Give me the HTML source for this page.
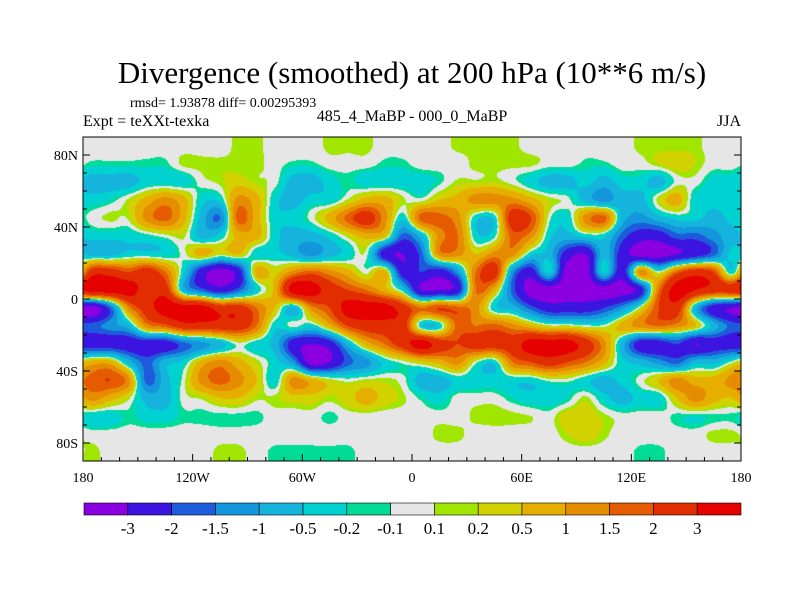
<!DOCTYPE html>
<html><head><meta charset="utf-8"><style>
body{margin:0;background:#fff;width:800px;height:600px;overflow:hidden;font-family:"Liberation Serif",serif;}
svg text{font-family:"Liberation Serif",serif;fill:#000;}
</style></head><body>
<svg id="chart" width="800" height="600" xmlns="http://www.w3.org/2000/svg" font-family="Liberation Serif, serif">
<rect width="800" height="600" fill="#fff"/>
<text x="412" y="83" font-size="31" text-anchor="middle">Divergence (smoothed) at 200 hPa (10**6 m/s)</text>
<text x="130" y="107" font-size="14">rmsd= 1.93878 diff= 0.00295393</text>
<text x="83" y="126" font-size="16">Expt = teXXt-texka</text>
<text x="412" y="121" font-size="16" text-anchor="middle">485_4_MaBP - 000_0_MaBP</text>
<text x="741" y="126" font-size="16" text-anchor="end">JJA</text>
<foreignObject x="83" y="137" width="658" height="324"><canvas id="cv" xmlns="http://www.w3.org/1999/xhtml" width="658" height="324" style="display:block"></canvas></foreignObject>
<rect x="83" y="137" width="658" height="324" fill="none" stroke="#000" stroke-width="1"/>
<g id="axes"></g>
<g id="cbar"></g>
</svg>
<script>
const levels=[-3,-2,-1.5,-1,-0.5,-0.2,-0.1,0.1,0.2,0.5,1,1.5,2,3];
const colors=["#8a00e0","#3c14e0","#1e5adc","#1496dc","#14b4dc","#00d2d2","#00dc96","#e6e6e6","#a0e600","#d2d200","#e6af00","#e68c00","#e65a00","#e12d00","#e60000"];
const xTicks=[-180,-120,-60,0,60,120,180];
const xTickLabels=["180","120W","60W","0","60E","120E","180"];
const yTicks=[80,40,0,-40,-80];
const yTickLabels=["80N","40N","0","40S","80S"];
// grid: 18 lat rows (85N..85S, 10 deg), 36 lon cols (175W..175E, 10 deg)
const row0=[0,0,0,0,0,0,0,0,0.15,0.15,0,0,0,0.15,0.15,0.15,0,0, 0,0,0.15,0.15,0.15,0.15,0,0,0,0,0,0,0.15,0.15,0.15,0.15,0,0];
const row1=[-0.15,-0.15,-0.15,-0.15,-0.15,0.15,0.15,0.15,0.15,0.15,0,-0.15,-0.15,0,0,0,-0.15,-0.15, 0,0,0,0.15,0.15,0.15,0.15,0,0,-0.15,-0.15,0,0,0.2,0.35,0.2,0,0];
const row2=[-0.7,-0.7,-0.7,-0.35,-0.35,-0.35,0,0.15,0.35,0.15,0,-0.7,-0.7,-0.35,-0.15,-0.35,-0.35,-0.35, -0.35,-0.15,0.15,0.15,0.2,0,-0.35,-0.7,-0.7,-0.35,-0.7,-0.35,-0.35,-0.7,0,0,-0.35,-0.35];
const row3=[-0.35,-0.2,0.15,0.7,1.2,0.7,-0.35,-0.35,1.2,0.7,-0.35,-0.7,-0.35,-0.35,0.15,0.7,0.7,0.15, 0,0.5,0.7,1.2,1.2,1.2,0.7,0.2,0,-0.7,-1.2,-0.7,-0.7,0.2,0.7,-0.35,-0.35,-0.35];
const row4=[0,0.15,0.15,1.2,1.7,0.7,-0.7,-1.5,1.7,0.7,-0.35,-0.35,0,0.7,1.7,2.5,1.2,-0.35, 1.7,1.7,1.2,-0.35,-0.35,2.5,2,0,-0.35,1.2,1.7,-0.7,-1.2,-0.7,-0.35,-0.35,-0.7,-0.35];
const row5=[-0.35,-0.35,-0.35,-0.2,0,0.15,-0.7,-0.35,0.7,0.7,-0.35,-0.7,-0.7,-0.35,0.2,0.7,0.5,-1.7, -0.7,1.2,1.5,-0.35,-0.2,1.7,1.2,-0.35,-0.7,-0.35,-0.35,-1.7,-2.5,-2.5,-1.7,-1.7,-1.2,-0.7];
const row6=[-0.7,-0.7,-0.35,-0.35,-0.35,0,0.7,0.2,0.5,-0.35,-0.35,-0.7,-1.2,-0.7,-0.35,0,-2.5,-3, -1.7,1.2,1.2,0.5,1.2,1.2,-0.35,-0.7,-2.5,-3,-0.7,-2.5,-3.5,-3.5,-3,-2.5,-1.7,-0.35];
const row7=[2.5,2.5,2,2.5,1.5,-0.35,-2.5,-3.5,-2.5,0.7,0.35,1.2,1.7,1.2,0.7,0,0.7,-2.5, -2,-2.5,-1.2,1.5,2.5,-1.2,-2.5,-0.35,-3.5,-3.5,-0.35,-2.5,1.2,0,1.7,2.5,2,-0.35];
const row8=[3.5,3.5,3.5,2.5,2.5,-0.7,-1.7,-2.5,-1.7,-0.35,0.7,3.5,3.5,2.5,2,1.5,0.7,-0.35, -3,-3,-2.5,1.5,0.7,-1.7,-3.5,-3.5,-3.5,-3.5,-3.5,-3.5,-2.5,1.5,3.5,3,2.5,2.5];
const row9=[-3.5,-1.7,1.2,2.5,3.5,3.5,3.5,2.5,2.5,1.5,0.5,-0.7,1.2,2,3.5,3.5,3.5,2.5, 1.5,2,1.7,1.2,-0.35,-0.7,-1.7,-2.5,-2.5,-2.5,-2,-1.2,0.2,2,2.5,-0.7,-2.5,-3];
const row10=[-1.7,-1.2,-0.7,1.2,1.7,2.5,2.5,2.5,2.5,1.5,-0.35,0,-0.35,0.7,2,2.5,2.5,2.5, -0.35,-0.35,1.7,1.5,1.7,1.2,0.7,0.2,0.2,0,0,0.7,1.2,1.5,1.2,0.5,-0.7,-1.7];
const row11=[-2.5,-2.5,-2.5,-2.5,-2.5,-1.7,-1.2,-0.7,0,-0.35,-0.7,-2.5,-3,-2.5,-0.7,0.7,1.5,2.5, 3.5,2.5,2,2.5,2.5,2.5,3.5,3.5,3.5,2.5,1.2,-0.7,-2.5,-2.5,-2,-3,-2.5,-2.5];
const row12=[0.7,0.7,-0.7,-1.7,-0.7,-0.35,0.7,1.2,0.7,0.2,-0.35,-1.2,-3.5,-3,-1.7,-1.2,-0.35,0, 0.35,0.7,1.2,0,-0.35,1.5,2,2.5,2,1.5,0.7,-0.35,-0.7,-1.2,-1.7,-0.7,-0.7,0];
const row13=[1.7,2,1.2,-1.7,-0.7,0,1.2,1.7,1.2,0.5,-0.35,1.2,0.7,0.2,0,0.15,0.15,0, -0.7,-0.7,-0.35,-0.35,-0.35,-0.35,-0.35,0,0,-0.35,-0.7,-0.35,0,0.5,1.2,0.7,0.7,1.2];
const row14=[1.2,0.7,0.15,-0.7,-0.7,0,0.15,0.5,0.5,0.15,0.15,0.35,0.35,0.15,0.35,0.7,0.35,0.15, -0.15,-0.35,0,0,0,-0.2,-0.35,-0.35,-0.2,0.15,-0.35,-0.7,-0.35,-0.35,0.5,1.2,0.7,0.5];
const row15=[-0.35,-0.35,-0.15,-0.35,-0.35,-0.15,-0.15,-0.15,-0.15,-0.15,0,0,0,-0.15,0,0,0,0, 0,0,0,0.15,0.2,0.15,0.1,0,0.35,0.35,0.15,0,0,0,-0.15,-0.2,-0.15,-0.15];
const row16=[0,0,0,0,0,0,0,0,0,0,0,0,0,0,0,0,0.1,0, 0,0.15,0.15,0,0,0,0,0,0.2,0.35,0.15,0,0,0,0,0,0.15,0.15];
const row17=[0.15,0,0,0,0,0,0,0.15,0.15,0,-0.15,-0.15,-0.15,-0.15,-0.15,0,0,0, 0,0,0,0,0,0,0,0,0,0,0,0,-0.15,-0.15,0,0,0,0];
const grid=[row0,row1,row2,row3,row4,row5,row6,row7,row8,row9,row10,row11,row12,row13,row14,row15,row16,row17];

const X0=83,X1=741,Y0=137,Y1=461;
const xScale=lon=>X0+(lon+180)/360*(X1-X0);
const yScale=lat=>Y0+(90-lat)/180*(Y1-Y0);
function cls(v){let i=0;while(i<levels.length&&v>=levels[i])i++;return i;}
function hex(c){return [parseInt(c.slice(1,3),16),parseInt(c.slice(3,5),16),parseInt(c.slice(5,7),16)];}
function cr(p0,p1,p2,p3,t){return 0.5*((2*p1)+(-p0+p2)*t+(2*p0-5*p1+4*p2-p3)*t*t+(-p0+3*p1-3*p2+p3)*t*t*t);}
const rgb=colors.map(hex);
const cv=document.getElementById('cv'),ctx=cv.getContext('2d');
const W=cv.width,H=cv.height,img=ctx.createImageData(W,H);
const nr=grid.length,nc=grid[0].length,step=180/nr;
function g(r,c){r=Math.max(0,Math.min(nr-1,r));c=((c%nc)+nc)%nc;return grid[r][c];}
for(let py=0;py<H;py++){
  const lat=90-(py+0.5)/H*180;
  let fr=(90-step/2-lat)/step; fr=Math.max(0,Math.min(nr-1,fr));
  const r1=Math.floor(fr),ty=fr-r1;
  for(let px=0;px<W;px++){
    const lon=-180+(px+0.5)/W*360;
    const fc=(lon+180-step/2)/step;
    const c1=Math.floor(fc),tx=fc-c1;
    const rows=[];
    for(let dr=-1;dr<=2;dr++){
      const r=r1+dr;
      rows.push(cr(g(r,c1-1),g(r,c1),g(r,c1+1),g(r,c1+2),tx));
    }
    const v=cr(rows[0],rows[1],rows[2],rows[3],ty);
    const c=rgb[cls(v)],k=(py*W+px)*4;
    img.data[k]=c[0];img.data[k+1]=c[1];img.data[k+2]=c[2];img.data[k+3]=255;
  }
}
ctx.putImageData(img,0,0);

const NS='http://www.w3.org/2000/svg';
const ax=document.getElementById('axes');
function mk(tag,attrs,parent){const e=document.createElementNS(NS,tag);for(const k in attrs)e.setAttribute(k,attrs[k]);parent.appendChild(e);return e;}
for(let lon=-180;lon<=180;lon+=10){
  const x=xScale(lon),len=lon%60===0?7:4;
  const t=mk('line',{x1:x,x2:x,y1:Y1,y2:Y1-len,stroke:'#000'},ax);
  
  
}
for(let lat=-90;lat<=90;lat+=10){
  const y=yScale(lat),len=lat%40===0?7:4;
  const t=mk('line',{x1:X0,x2:X0+len,y1:y,y2:y,stroke:'#000'},ax);
  
  
  const t2=mk('line',{x1:X1,x2:X1-len,y1:y,y2:y,stroke:'#000'},ax);
  
  
}
xTicks.forEach((lon,i)=>{
  const t=mk('text',{x:xScale(lon),y:482,'font-size':14,'text-anchor':'middle'},ax);
  t.textContent=xTickLabels[i];
  
  
});
yTicks.forEach((lat,i)=>{
  const t=mk('text',{x:78,y:yScale(lat)+5,'font-size':14,'text-anchor':'end'},ax);
  t.textContent=yTickLabels[i];
  
  
});
const cb=document.getElementById('cbar');
const CB0=84,CB1=741,bw=(CB1-CB0)/colors.length;
colors.forEach((c,i)=>{
  const r=mk('rect',{x:CB0+i*bw,y:503,width:bw,height:12,fill:c,stroke:'#000','stroke-width':0.6},cb);
  
  
});
levels.forEach((l,i)=>{
  const t=mk('text',{x:CB0+(i+1)*bw,y:534,'font-size':17,'text-anchor':'middle'},cb);
  t.textContent=String(l);
  
  
});
</script>
</body></html>
